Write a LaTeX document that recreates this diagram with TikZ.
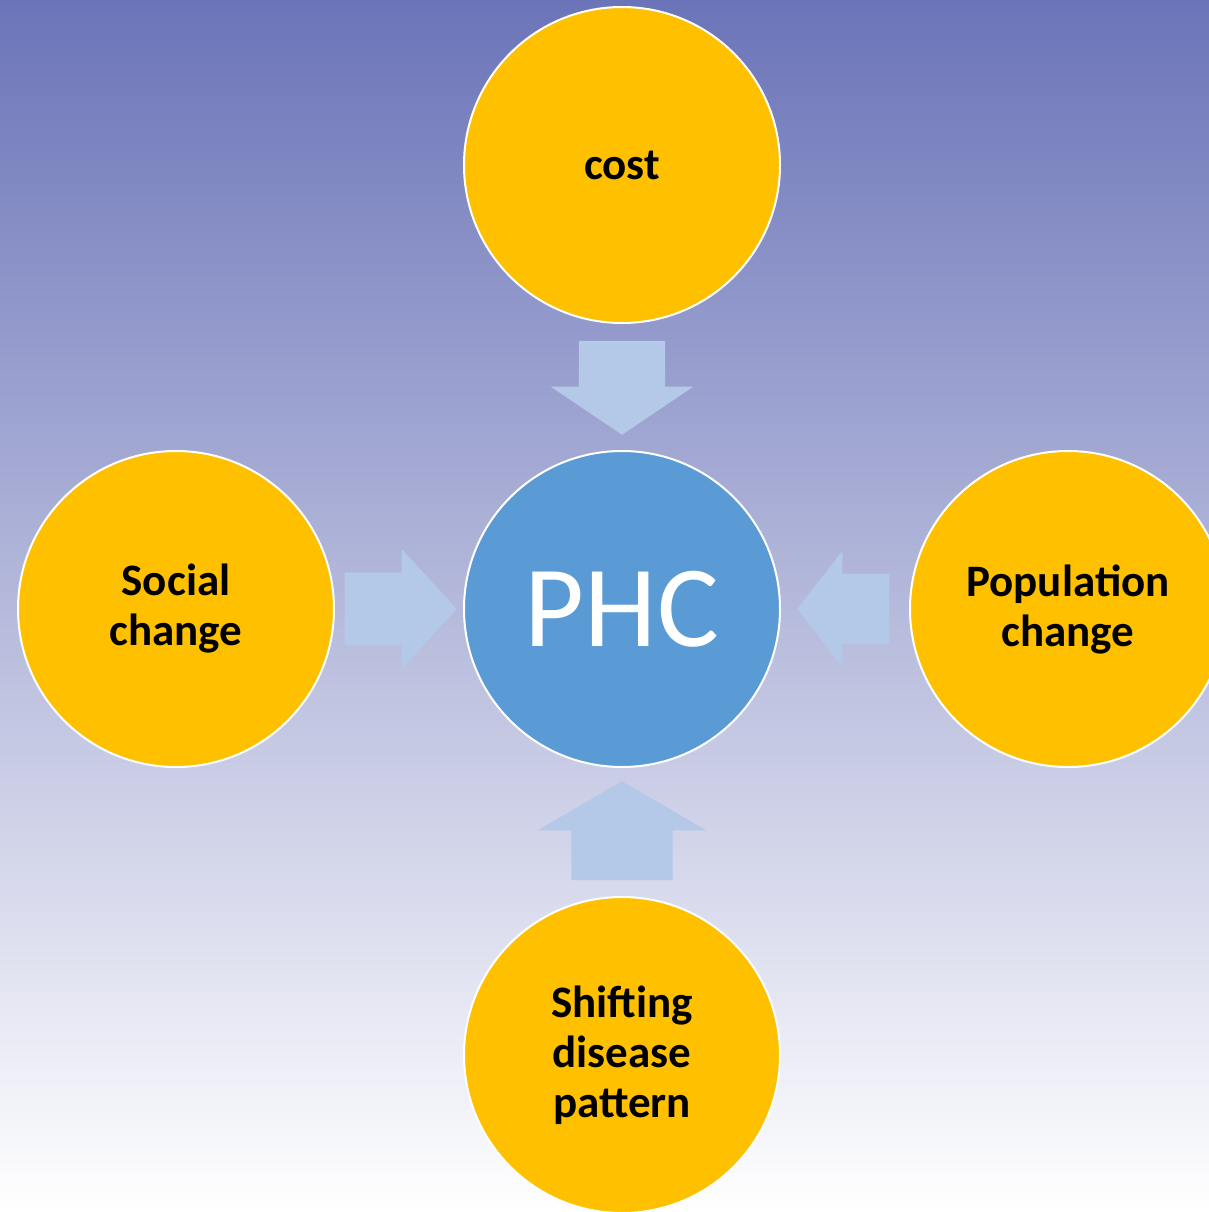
\documentclass[tikz,border=0pt]{standalone}
\usepackage{fontspec}
\setmainfont{Carlito}
\usepackage{xcolor}
\usetikzlibrary{positioning}
\usetikzlibrary{shapes.arrows}

\definecolor{bgtop}{RGB}{107,116,184}
\definecolor{factorfill}{RGB}{255,192,0}
\definecolor{hubfill}{RGB}{91,155,213}
\definecolor{arrowfill}{RGB}{180,200,231}

\begin{document}
\begin{tikzpicture}[x=1pt, y=-1pt, node distance=128pt,
        factor/.style={circle, fill=factorfill, draw=white, line width=2pt, minimum size=316pt,
            inner sep=0pt, align=center, font=\bfseries\fontsize{45}{50}\selectfont},
        hub/.style={circle, fill=hubfill, draw=white, line width=2pt, minimum size=316pt,
            inner sep=0pt, text=white, font=\fontsize{116}{120}\selectfont},
        inarrow/.style={single arrow, fill=arrowfill, draw=none, inner sep=0pt, minimum width=1pt}]
        % background
        \useasboundingbox (0,0) rectangle (1209,1212);
        \shade[top color=bgtop, bottom color=white] (0,0) rectangle (1209,1212);

        % nodes
        \node[hub] (phc) at (622,609) {PHC};
        \node[factor, above=of phc, yshift=-2pt] (cost) {\raisebox{-3pt}{cost}};
        \node[factor, left=of phc] (social) {Social\\change};
        \node[factor, right=of phc] (pop) {Population\\change};
        \node[factor, below=of phc] (shift) {Shifting\\disease\\pattern};

        % arrows (into PHC)
        \node[inarrow, shape border rotate=270, anchor=tip, inner xsep=43pt, single arrow head extend=28pt,
            single arrow tip angle=112, minimum height=94pt] (a-cost) at ([yshift=15pt]phc.north) {};
        \node[inarrow, shape border rotate=90, anchor=tip, inner xsep=50.5pt, single arrow head extend=33.5pt,
            single arrow tip angle=119.5, minimum height=99pt] (a-shift) at ([yshift=-13pt]phc.south) {};
        \node[inarrow, shape border rotate=0, anchor=tip, inner ysep=36.5pt, single arrow head extend=23.5pt,
            single arrow tip angle=95, minimum height=112pt] (a-social) at ([xshift=-6pt]phc.west) {};
        \node[inarrow, shape border rotate=180, anchor=tip, inner ysep=35pt, single arrow head extend=23pt,
            single arrow tip angle=104.4, minimum height=92pt] (a-pop) at ([xshift=16pt]phc.east) {};
    \end{tikzpicture}
\end{document}
